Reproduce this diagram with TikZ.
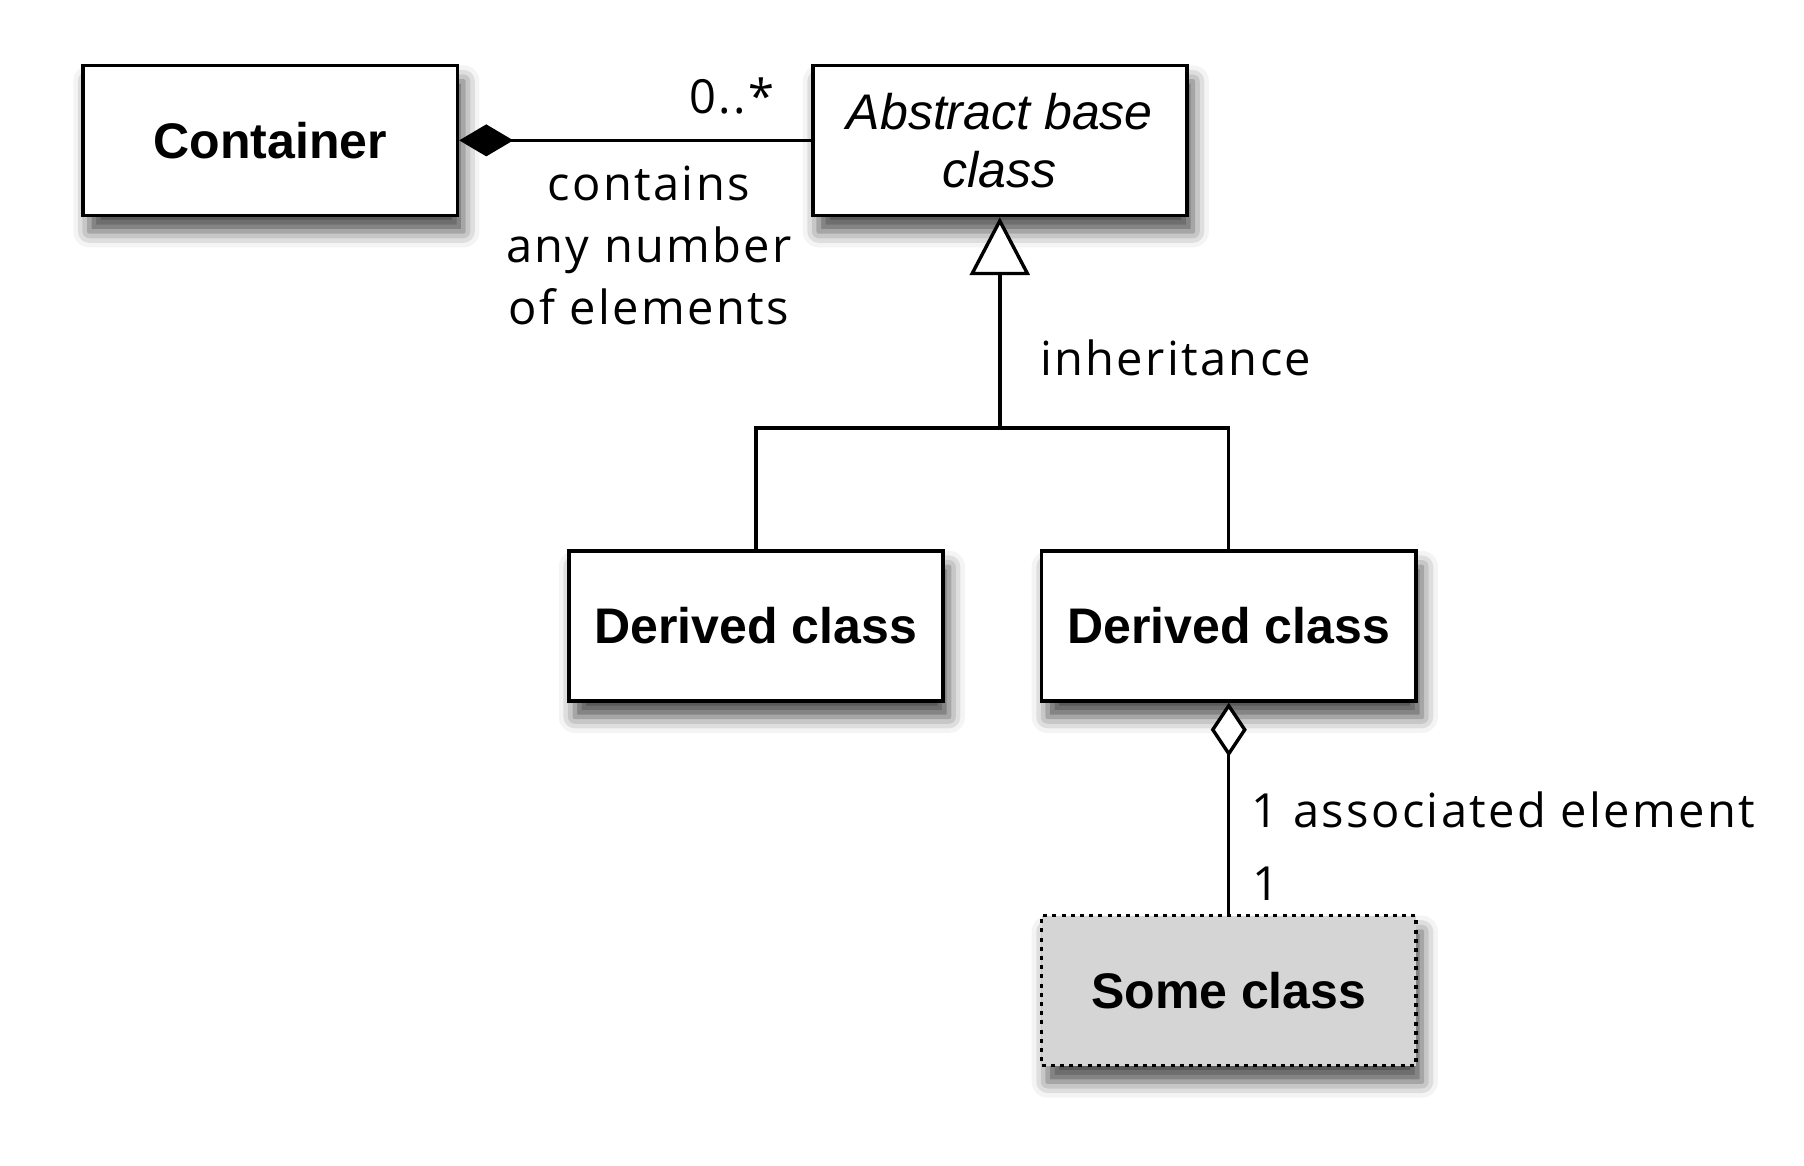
\documentclass[tikz,border=0pt]{standalone}
\usepackage{fontspec}
\setmainfont{Open Sans}
\newfontfamily\notefont[LetterSpace=5]{Open Sans}
\newfontfamily\boxfont{Liberation Sans}
\usetikzlibrary{shapes,arrows.meta,positioning,shadows.blur,calc}

\definecolor{someGray}{RGB}{213,213,213}

\tikzset{
  classbox/.style={rectangle, draw, line width=1.8pt, fill=white,
    minimum width=187pt, minimum height=75pt,
    font=\boxfont\fontsize{25}{29}\selectfont\bfseries,
    blur shadow={shadow xshift=3pt, shadow yshift=-8pt, shadow blur radius=8pt, shadow opacity=70}},
  note/.style={font=\notefont\fontsize{23.5}{31}\selectfont, align=center},
  conn/.style={line width=1.7pt}
}

\begin{document}
\begin{tikzpicture}[x=0.575pt, y=-0.575pt]
    \useasboundingbox (0,0) rectangle (1568,1013);

    \node (container) [classbox] at (235,122) {Container};
    \node (base) [classbox, align=center, font=\boxfont\fontsize{25}{29}\selectfont\itshape] at (869,122) {Abstract base\\class};
    \node (derivedA) [classbox] at (657,544) {Derived class};
    \node (derivedB) [classbox] at (1068,544) {Derived class};
    \node (some) [classbox, fill=someGray, dash pattern=on 2pt off 2.6pt] at (1068,861) {Some class};

    \coordinate (fork) at (869,372);

    % composition
    \draw [conn, {Diamond[length=27pt, width=16pt]}-] (container) -- (base);
    \node (mult) [note] at (636,83) {0..*};
    \node (contains) [note] at (564,213) {contains\\any number\\of elements};

    % inheritance
    \draw [conn, -{Triangle[open, length=29pt, width=30pt, fill=white]}] (fork) -- (base);
    \draw [conn] (derivedA.north) |- (fork) -| (derivedB.north);
    \node (inh) [note] at (1022,311) {inheritance};

    % aggregation
    \draw [conn, {Diamond[open, length=27pt, width=18pt, fill=white]}-] (derivedB) -- (some);
    \node (assoc) [note, anchor=west] at (1082,704) {1 associated element};
    \node (one) [note] at (1100,768) {1};
\end{tikzpicture}
\end{document}
